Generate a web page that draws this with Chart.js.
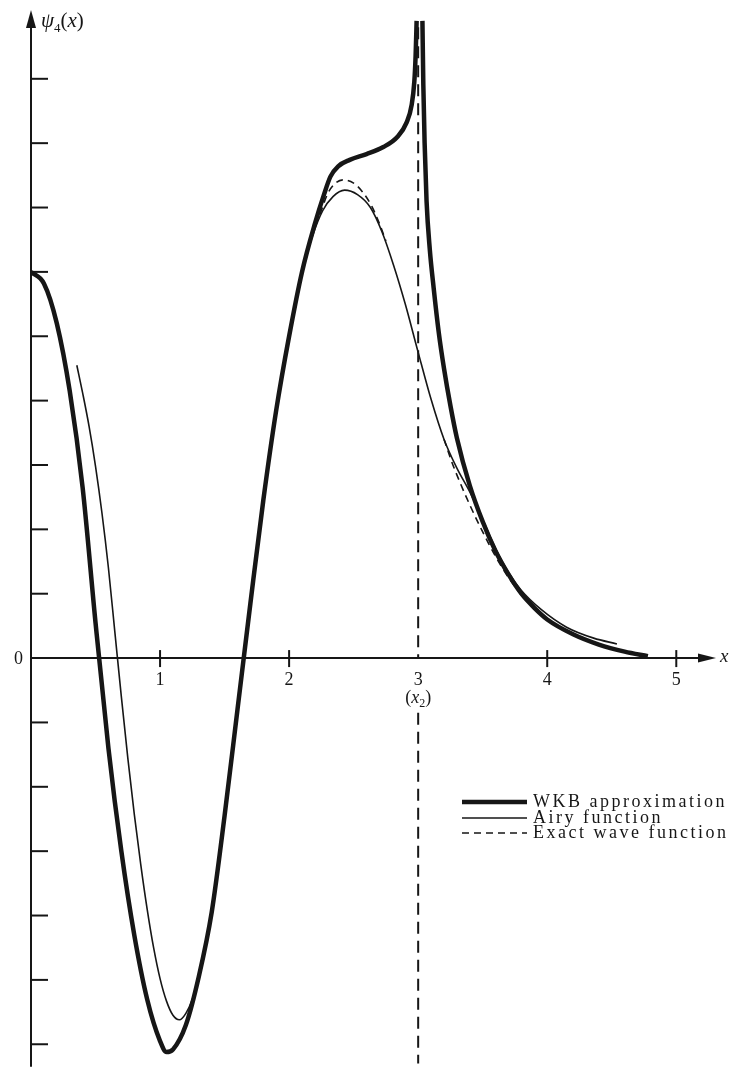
<!DOCTYPE html>
<html>
<head>
<meta charset="utf-8">
<script src="https://cdn.jsdelivr.net/npm/chart.js@4.4.0/dist/chart.umd.min.js"></script>
<style>
  html, body { margin: 0; padding: 0; background: #fff; }
</style>
</head>
<body>
<canvas id="psiChart" width="733" height="1074"></canvas>
<script>
// values, y in units of one tick mark on the psi axis
const wkbInnerX = [0, 0.1, 0.2, 0.3, 0.4, 0.5, 0.6, 0.7, 0.8, 0.9, 1.0, 1.05, 1.1, 1.2, 1.3, 1.4, 1.5, 1.6, 1.7, 1.8, 1.9, 2.0, 2.1, 2.2, 2.27, 2.32, 2.38, 2.47, 2.6, 2.73, 2.84, 2.91, 2.95, 2.97, 2.98, 2.988];
const wkbInnerY = [6.0, 5.82, 5.2, 4.15, 2.65, 0.55, -1.4, -3.0, -4.3, -5.3, -5.95, -6.12, -6.08, -5.7, -4.95, -3.95, -2.45, -0.8, 0.85, 2.45, 3.85, 5.0, 6.0, 6.75, 7.2, 7.48, 7.64, 7.74, 7.83, 7.94, 8.1, 8.32, 8.6, 8.95, 9.35, 9.9];
const wkbOuterX = [3.033, 3.04, 3.05, 3.065, 3.09, 3.12, 3.16, 3.2, 3.25, 3.3, 3.4, 3.5, 3.6, 3.7, 3.8, 3.9, 4.0, 4.2, 4.4, 4.6, 4.78];
const wkbOuterY = [9.9, 8.9, 8.0, 7.1, 6.35, 5.75, 5.05, 4.5, 3.92, 3.42, 2.68, 2.12, 1.66, 1.3, 1.0, 0.78, 0.6, 0.37, 0.21, 0.1, 0.03];
const airyX = [0.355, 0.4, 0.45, 0.5, 0.55, 0.6, 0.65, 0.7, 0.75, 0.8, 0.85, 0.9, 0.95, 1.0, 1.05, 1.1, 1.15, 1.2, 1.25, 1.3, 1.35, 1.4, 1.5, 1.6, 1.7, 1.8, 1.9, 2.0, 2.1, 2.18, 2.26, 2.34, 2.43, 2.53, 2.63, 2.72, 2.81, 2.9, 3.0, 3.1, 3.2, 3.3, 3.4, 3.5, 3.6, 3.7, 3.8, 3.95, 4.15, 4.36, 4.54];
const airyY = [4.55, 4.12, 3.6, 2.98, 2.25, 1.4, 0.4, -0.6, -1.55, -2.42, -3.2, -3.9, -4.5, -4.98, -5.33, -5.55, -5.62, -5.52, -5.3, -4.95, -4.48, -3.95, -2.45, -0.8, 0.85, 2.45, 3.85, 5.0, 6.0, 6.55, 6.95, 7.17, 7.27, 7.2, 7.0, 6.62, 6.1, 5.5, 4.75, 4.02, 3.4, 2.95, 2.58, 2.15, 1.7, 1.33, 1.05, 0.76, 0.48, 0.31, 0.22];
const exactPeakX = [2.24, 2.3, 2.36, 2.42, 2.5, 2.57, 2.64, 2.7, 2.75];
const exactPeakY = [6.9, 7.22, 7.38, 7.43, 7.38, 7.24, 7.02, 6.75, 6.48];
const exactTailX = [3.2, 3.26, 3.33, 3.4, 3.5, 3.6, 3.7, 3.8];
const exactTailY = [3.4, 3.05, 2.7, 2.38, 1.96, 1.58, 1.25, 0.98];
const turningPoint = 3;
const turningLineY = [9.8, 0, null, -0.85, -6.3];
const xTicks = [1, 2, 3, 4, 5];
const xTickLabels = ['1', '2', '3', '4', '5'];
const yTicks = [-6, -5, -4, -3, -2, -1, 1, 2, 3, 4, 5, 6, 7, 8, 9];

const ink = '#161616';
const serif = '"Liberation Serif", "DejaVu Serif", serif';

function pts(xs, ys) {
  return xs.map((x, i) => ({ x: x, y: ys[i] }));
}

function drawParts(ctx, parts, x, baseline, centred) {
  let w = 0;
  parts.forEach(p => { ctx.font = p[1]; w += ctx.measureText(p[0]).width; });
  let cx = centred ? x - w / 2 : x;
  ctx.textAlign = 'left';
  parts.forEach(p => {
    ctx.font = p[1];
    ctx.fillText(p[0], cx, baseline + p[2]);
    cx += ctx.measureText(p[0]).width;
  });
}

// axes, arrows, labels and the legend are drawn by hand like in the book
const bookAxes = {
  id: 'bookAxes',
  beforeDatasetsDraw(chart) {
    const ctx = chart.ctx;
    const xs = chart.scales.x, ys = chart.scales.y;
    const x0 = xs.getPixelForValue(0), y0 = ys.getPixelForValue(0);
    ctx.save();
    ctx.strokeStyle = ink;
    ctx.fillStyle = ink;
    ctx.lineWidth = 2;
    // psi axis
    ctx.beginPath();
    ctx.moveTo(x0, ys.getPixelForValue(-6.35));
    ctx.lineTo(x0, 24);
    ctx.stroke();
    ctx.beginPath();
    ctx.moveTo(x0, 10);
    ctx.lineTo(x0 - 5, 28);
    ctx.lineTo(x0 + 5, 28);
    ctx.closePath();
    ctx.fill();
    // x axis
    ctx.beginPath();
    ctx.moveTo(x0, y0);
    ctx.lineTo(700, y0);
    ctx.stroke();
    ctx.beginPath();
    ctx.moveTo(716, y0);
    ctx.lineTo(698, y0 - 4.5);
    ctx.lineTo(698, y0 + 4.5);
    ctx.closePath();
    ctx.fill();
    // ticks
    yTicks.forEach(v => {
      const py = ys.getPixelForValue(v);
      ctx.beginPath();
      ctx.moveTo(x0, py);
      ctx.lineTo(x0 + 17, py);
      ctx.stroke();
    });
    xTicks.forEach(v => {
      if (v === turningPoint) return;
      const px = xs.getPixelForValue(v);
      ctx.beginPath();
      ctx.moveTo(px, y0 - 8);
      ctx.lineTo(px, y0 + 9);
      ctx.stroke();
    });
    ctx.restore();
  },
  afterDraw(chart) {
    const ctx = chart.ctx;
    const xs = chart.scales.x, ys = chart.scales.y;
    const x0 = xs.getPixelForValue(0), y0 = ys.getPixelForValue(0);
    ctx.save();
    ctx.fillStyle = ink;
    ctx.textBaseline = 'alphabetic';

    ctx.font = '18px ' + serif;
    ctx.textAlign = 'center';
    xTicks.forEach((v, i) => {
      ctx.fillText(xTickLabels[i], xs.getPixelForValue(v), y0 + 27);
    });
    ctx.textAlign = 'right';
    ctx.fillText('0', x0 - 8, y0 + 6);

    // (x2) under the turning point
    drawParts(ctx, [
      ['(', '18px ' + serif, 0],
      ['x', 'italic 18px ' + serif, 0],
      ['2', '12px ' + serif, 4],
      [')', '18px ' + serif, 0]
    ], xs.getPixelForValue(turningPoint), y0 + 45, true);

    // psi_4(x)
    drawParts(ctx, [
      ['\u03c8', 'italic 21px ' + serif, 0],
      ['4', '13px ' + serif, 5],
      ['(', '21px ' + serif, 0],
      ['x', 'italic 21px ' + serif, 0],
      [')', '21px ' + serif, 0]
    ], x0 + 10, 27, false);

    ctx.textAlign = 'left';
    ctx.font = 'italic 19px ' + serif;
    ctx.fillText('x', 720, y0 + 4);

    // legend
    const rows = [
      { ds: 0, y: 802 },
      { ds: 2, y: 818 },
      { ds: 3, y: 833 }
    ];
    rows.forEach(r => {
      const d = chart.data.datasets[r.ds];
      ctx.save();
      ctx.strokeStyle = ink;
      ctx.lineWidth = d.borderWidth;
      ctx.setLineDash(d.borderDash || []);
      ctx.beginPath();
      ctx.moveTo(462, r.y);
      ctx.lineTo(527, r.y);
      ctx.stroke();
      ctx.restore();
      ctx.font = '18px ' + serif;
      ctx.letterSpacing = '2.5px';
      ctx.textAlign = 'left';
      ctx.fillText(d.label, 533, r.y + 5);
    });
    ctx.restore();
  }
};

const line = {
  pointRadius: 0,
  borderColor: ink,
  fill: false,
  cubicInterpolationMode: 'monotone'
};

new Chart(document.getElementById('psiChart'), {
  type: 'line',
  data: {
    datasets: [
      Object.assign({ label: 'WKB approximation', data: pts(wkbInnerX, wkbInnerY), borderWidth: 4.5 }, line),
      Object.assign({ label: 'WKB approximation', data: pts(wkbOuterX, wkbOuterY), borderWidth: 4.5 }, line),
      Object.assign({ label: 'Airy function', data: pts(airyX, airyY), borderWidth: 1.6 }, line),
      Object.assign({ label: 'Exact wave function', data: pts(exactPeakX, exactPeakY), borderWidth: 1.6, borderDash: [7, 5] }, line),
      Object.assign({ label: 'Exact wave function', data: pts(exactTailX, exactTailY), borderWidth: 1.6, borderDash: [7, 5] }, line),
      {
        label: 'x2',
        data: turningLineY.map(v => ({ x: turningPoint, y: v })),
        borderColor: ink, borderWidth: 2, borderDash: [12, 7], pointRadius: 0, tension: 0, spanGaps: false
      }
    ]
  },
  options: {
    responsive: false,
    animation: false,
    devicePixelRatio: 1,
    layout: { padding: { left: 31, right: 18, top: 8, bottom: 4 } },
    plugins: { legend: { display: false }, tooltip: { enabled: false } },
    scales: {
      x: { type: 'linear', min: 0, max: 5.3, display: false },
      y: { type: 'linear', min: -6.4, max: 10.1, display: false }
    }
  },
  plugins: [bookAxes]
});
</script>
</body>
</html>
